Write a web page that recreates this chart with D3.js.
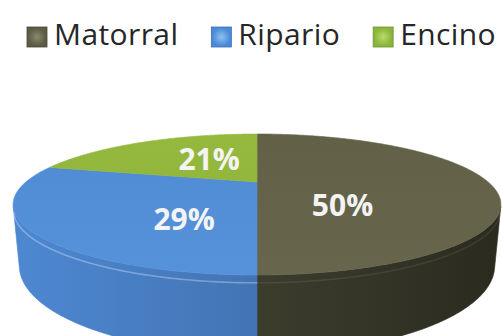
<!DOCTYPE html>
<html>
<head>
<meta charset="utf-8">
<script src="https://cdn.jsdelivr.net/npm/d3@7"></script>
<style>
  html, body { margin: 0; padding: 0; background: #ffffff; }
  svg { display: block; }
</style>
</head>
<body>
<svg id="chart" width="502" height="336"></svg>
<script>
// Land-cover shares shown in the 3D pie
const categories = ["Matorral", "Ripario", "Encino"];
const shares = [50, 29, 21];
const valueLabels = ["50%", "29%", "21%"];

// Fill colours per category
const topColors  = ["#67664d", "#5692da", "#8cb23b"];
const topColorsB = ["#626148", "#4f8ad4", "#95b93d"];
const sideColorsA = ["#3d3d2e", "#4d87d0", "#6f8f2c"];
const sideColorsB = ["#2b2b20", "#4274b4", "#5d7a24"];
const keyColors = ["#5c5b44", "#4a8ad8", "#8ab43a"];
const keyLights = ["#8a8a6c", "#8fc0f2", "#b9dc6a"];

const width = 502, height = 336;
const svg = d3.select("#chart");
const defs = svg.append("defs");

// ---- perspective projection of a flat disc (radius 1, thickness H) ----
const H = 0.26;
const tilt = 15.9 * Math.PI / 180, sT = Math.sin(tilt), cT = Math.cos(tilt);
const camDist = 3.014, focal = 696.7;
const cx = 257, cy = 182;

function project(theta, r, h) {
  const u = r * Math.sin(theta), v = r * Math.cos(theta);
  const depth = camDist + v * cT - h * sT;
  const up = v * sT + h * cT;
  return [cx + focal * u / depth, cy - focal * up / depth];
}

// outer wall faces the viewer where cos(theta) < -1/(D cos tilt)
const frontStart = Math.acos(-1 / (camDist * cT));
const frontEnd = 2 * Math.PI - frontStart;

const data = categories.map((c, i) => ({ name: c, value: shares[i], label: valueLabels[i], i }));
const arcs = d3.pie().sort(null).value(d => d.value).startAngle(0).endAngle(2 * Math.PI)(data);

function samples(a0, a1) {
  const n = Math.max(2, Math.ceil(Math.abs(a1 - a0) / 0.01));
  return d3.range(n + 1).map(k => a0 + (a1 - a0) * k / n);
}
const line = d3.line();

// gradients
arcs.forEach(a => {
  const i = a.data.i;
  const gs = defs.append("linearGradient").attr("id", "side" + i)
    .attr("gradientUnits", "userSpaceOnUse")
    .attr("x1", project(-Math.PI / 2, 1, 0)[0]).attr("y1", 0)
    .attr("x2", project(Math.PI / 2, 1, 0)[0]).attr("y2", 0);
  if (i === 0) {
    gs.append("stop").attr("offset", 0.5).attr("stop-color", sideColorsA[i]);
    gs.append("stop").attr("offset", 1).attr("stop-color", sideColorsB[i]);
  } else {
    gs.append("stop").attr("offset", 0).attr("stop-color", sideColorsA[i]);
    gs.append("stop").attr("offset", 0.5).attr("stop-color", sideColorsB[i]);
  }
  const gt = defs.append("linearGradient").attr("id", "top" + i)
    .attr("gradientUnits", "userSpaceOnUse")
    .attr("x1", 0).attr("y1", project(0, 1, 0)[1])
    .attr("x2", 0).attr("y2", project(Math.PI, 1, 0)[1]);
  gt.append("stop").attr("offset", 0).attr("stop-color", topColorsB[i]);
  gt.append("stop").attr("offset", 1).attr("stop-color", topColors[i]);
});

const pie3d = svg.append("g");

// outer walls (front-facing part only)
arcs.forEach(a => {
  const a0 = Math.max(a.startAngle, frontStart), a1 = Math.min(a.endAngle, frontEnd);
  if (a1 <= a0) return;
  const ts = samples(a0, a1);
  const pts = ts.map(t => project(t, 1, 0)).concat(ts.slice().reverse().map(t => project(t, 1, -H)));
  pie3d.append("path").attr("d", line(pts) + "Z")
    .attr("fill", `url(#side${a.data.i})`)
    .attr("stroke", `url(#side${a.data.i})`).attr("stroke-width", 0.6);
});

// top faces
arcs.forEach(a => {
  const pts = [project(0, 0, 0)].concat(samples(a.startAngle, a.endAngle).map(t => project(t, 1, 0)));
  a.topPoly = pts;
  pie3d.append("path").attr("d", line(pts) + "Z")
    .attr("fill", `url(#top${a.data.i})`)
    .attr("stroke", `url(#top${a.data.i})`).attr("stroke-width", 0.6);
});

// light bevel along the front rim of the top face
arcs.forEach(a => {
  const a0 = Math.max(a.startAngle, frontStart), a1 = Math.min(a.endAngle, frontEnd);
  if (a1 <= a0) return;
  const pts = samples(a0, a1).map(t => project(t, 1, -0.025));
  pie3d.append("path").attr("d", line(pts))
    .attr("fill", "none")
    .attr("stroke", "#ffffff")
    .attr("stroke-opacity", a.data.i === 0 ? 0.08 : 0.3)
    .attr("stroke-width", 1.6);
});

// value labels
arcs.forEach(a => {
  const mid = (a.startAngle + a.endAngle) / 2;
  const px = project(mid, 0.37, 0)[0];
  const py = d3.polygonCentroid(a.topPoly)[1];
  pie3d.append("text")
    .attr("x", px).attr("y", py)
    .attr("text-anchor", "middle")
    .attr("dominant-baseline", "central")
    .attr("font-family", "'Open Sans', 'DejaVu Sans', sans-serif")
    .attr("font-weight", 700)
    .attr("font-size", 30)
    .attr("fill", "#f4f4f4")
    .text(a.data.label);
});

// legend
const legend = svg.append("g").attr("transform", "translate(27,27)");
let lx = 0;
data.forEach((d, i) => {
  const g = defs.append("radialGradient").attr("id", "key" + i);
  g.append("stop").attr("offset", 0).attr("stop-color", keyLights[i]);
  g.append("stop").attr("offset", 0.9).attr("stop-color", keyColors[i]);
  const item = legend.append("g").attr("transform", `translate(${lx},0)`);
  item.append("rect").attr("width", 20).attr("height", 20)
    .attr("fill", `url(#key${i})`)
    .attr("stroke", d3.color(keyColors[i]).darker(0.6)).attr("stroke-width", 0.8);
  const t = item.append("text").attr("x", 27).attr("y", 18)
    .attr("font-family", "'Open Sans', 'DejaVu Sans', sans-serif")
    .attr("font-size", 30)
    .attr("letter-spacing", 0.4)
    .attr("fill", "#262626")
    .text(d.name);
  lx += 27 + t.node().getComputedTextLength() + 33;
});
</script>
</body>
</html>
